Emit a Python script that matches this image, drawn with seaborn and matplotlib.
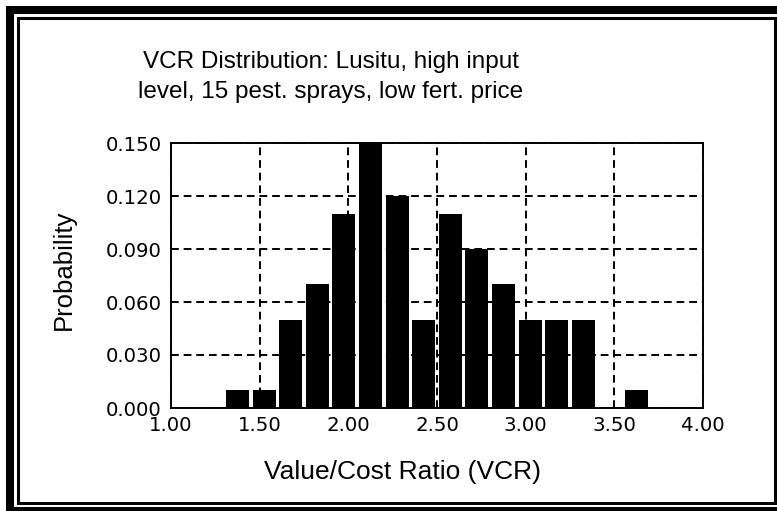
import numpy as np
import pandas as pd
import seaborn as sns
import matplotlib.pyplot as plt
from matplotlib.patches import Rectangle

# histogram (bin mid points, width 0.15)
vcr_mid = [1.375, 1.525, 1.675, 1.825, 1.975, 2.125, 2.275, 2.425,
           2.575, 2.725, 2.875, 3.025, 3.175, 3.325, 3.475, 3.625]
prob = [0.01, 0.01, 0.05, 0.07, 0.11, 0.15, 0.12, 0.05,
        0.11, 0.09, 0.07, 0.05, 0.05, 0.05, 0.00, 0.01]
x_ticks = [1.0, 1.5, 2.0, 2.5, 3.0, 3.5, 4.0]
y_ticks = [0.0, 0.03, 0.06, 0.09, 0.12, 0.15]

df = pd.DataFrame({"VCR": vcr_mid, "Probability": prob})

sns.set_style("white")
plt.rcParams["font.family"] = ["Liberation Sans", "DejaVu Sans"]
plt.rcParams["text.color"] = "black"
plt.rcParams["axes.labelcolor"] = "black"

W, H = 777, 511
fig = plt.figure(figsize=(W / 100, H / 100), dpi=100)
ax = fig.add_axes([171 / W, 1 - 408 / H, 532 / W, 265 / H])

sns.histplot(data=df, x="VCR", weights="Probability", binwidth=0.15,
             binrange=(1.30, 3.70), shrink=0.87, color="black",
             edgecolor="none", alpha=1, ax=ax)

ax.set_xlim(1.0, 4.0)
ax.set_ylim(0.0, 0.15)
ax.set_xticks(x_ticks)
ax.set_xticklabels([f"{t:.2f}" for t in x_ticks], family="DejaVu Sans")
ax.set_yticks(y_ticks)
ax.set_yticklabels([f"{t:.3f}" for t in y_ticks], family="DejaVu Sans")
ax.tick_params(direction="out", length=5.5, width=1.4, colors="black",
               labelsize=14.2, pad=1)
ax.tick_params(axis="x", pad=0)

ax.set_axisbelow(True)
ax.grid(True, color="black", linestyle=(0, (4, 2.5)), linewidth=1.4)
for s in ax.spines.values():
    s.set_color("black")
    s.set_linewidth(1.4)

ax.set_xlabel("Value/Cost Ratio (VCR)", fontsize=19, va="center")
ax.xaxis.set_label_coords((403 - 171) / 532, (408 - 472) / 265)
ax.set_ylabel("Probability", fontsize=18.5, va="center")
ax.yaxis.set_label_coords((64 - 171) / 532, (408 - 270) / 265)

fig.suptitle("VCR Distribution: Lusitu, high input\nlevel, 15 pest. sprays, low fert. price",
             x=331 / W, y=1 - 77 / H, va="center", fontsize=17.5, linespacing=1.5)

# double frame round the figure (runs off the right and bottom edges)
fig.patches.append(Rectangle((10 / W, 0), 800 / W, (H - 10) / H,
                             transform=fig.transFigure, fill=False,
                             edgecolor="black", linewidth=5.8))
fig.patches.append(Rectangle((17.5 / W, (H - 503) / H), 757 / W, (503 - 18.5) / H,
                             transform=fig.transFigure, fill=False,
                             edgecolor="black", linewidth=2.2))

fig.savefig("out.png", dpi=100)
